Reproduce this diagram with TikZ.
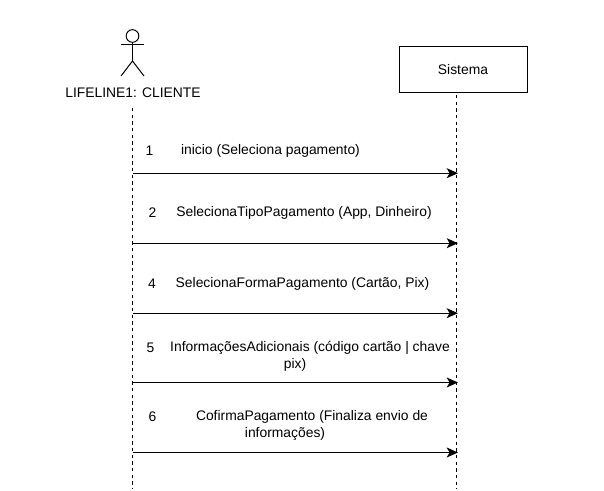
\documentclass[tikz,border=0pt]{standalone}
\usepackage{fontspec}
\setmainfont{Liberation Sans}
\usetikzlibrary{arrows.meta}
\tikzset{
  x=0.75pt,y=-0.75pt,
  lbl/.style={inner sep=0pt,font=\fontsize{10.4pt}{12.5pt}\selectfont,align=center,text=black},
  life/.style={draw=black,line width=0.75pt,dash pattern=on 2.5pt off 2.5pt},
  msg/.style={draw=black,line width=0.75pt,-{Stealth[length=8.5pt,width=7.5pt,inset=2.2pt]},shorten >=0pt},
  stick/.style={draw=black,line width=0.75pt}
}
\begin{document}
\begin{tikzpicture}
\useasboundingbox (0,0) rectangle (604,491);
% actor
\node[stick,circle,minimum size=9.5pt,inner sep=0pt] (head) at (132.5,36) {};
\coordinate (hip) at (132.5,61);
\coordinate (armL) at (121,45);
\coordinate (armR) at (144,45);
\coordinate (legL) at (121,76);
\coordinate (legR) at (144,76);
\draw[stick] (head.south) -- (hip);
\draw[stick] (armL) -- (armR);
\draw[stick] (legL) -- (hip) -- (legR);
\node[lbl] (actor) at (133,93) {LIFELINE1: CLIENTE};
% system
\node[draw=black,line width=0.75pt,minimum width=96pt,minimum height=34.5pt,inner sep=0pt,font=\fontsize{10.4pt}{12.5pt}\selectfont] (sys) at (463,69.5) {Sistema};
% lifelines
\coordinate (aTop) at (132.5,108);
\coordinate (aBot) at (132.5,489);
\coordinate (sTop) at (456.5,95);
\coordinate (sBot) at (456.5,489);
\draw[life] (aTop) -- (aBot);
\draw[life] (sTop) -- (sBot);
% messages
\foreach \n/\y in {a/173.2,b/243.2,c/313.2,d/382.5,e/452.5}{
  \coordinate (l\n) at (132.5,\y);
  \coordinate (r\n) at (458,\y);
  \draw[msg] (l\n) -- (r\n);
}
% labels
\node[lbl] (n1) at (149.5,151) {1};
\node[lbl] (t1) at (270.5,151) {inicio (Seleciona pagamento)};
\node[lbl] (n2) at (152.5,213) {2};
\node[lbl] (t2) at (304,213) {SelecionaTipoPagamento (App, Dinheiro)};
\node[lbl] (n3) at (152,284) {4};
\node[lbl] (t3) at (302.5,284) {SelecionaFormaPagamento (Cartão, Pix)};
\node[lbl] (n4) at (150.5,348) {5};
\node[lbl] (t4) at (310,356.5) {InformaçõesAdicionais (código cartão | chave\\pix)\hspace*{22.5pt}};
\node[lbl] (n5) at (152.5,417) {6};
\node[lbl] (t5) at (312,425.5) {CofirmaPagamento (Finaliza envio de\\informações)\hspace*{40.5pt}};
\end{tikzpicture}
\end{document}
